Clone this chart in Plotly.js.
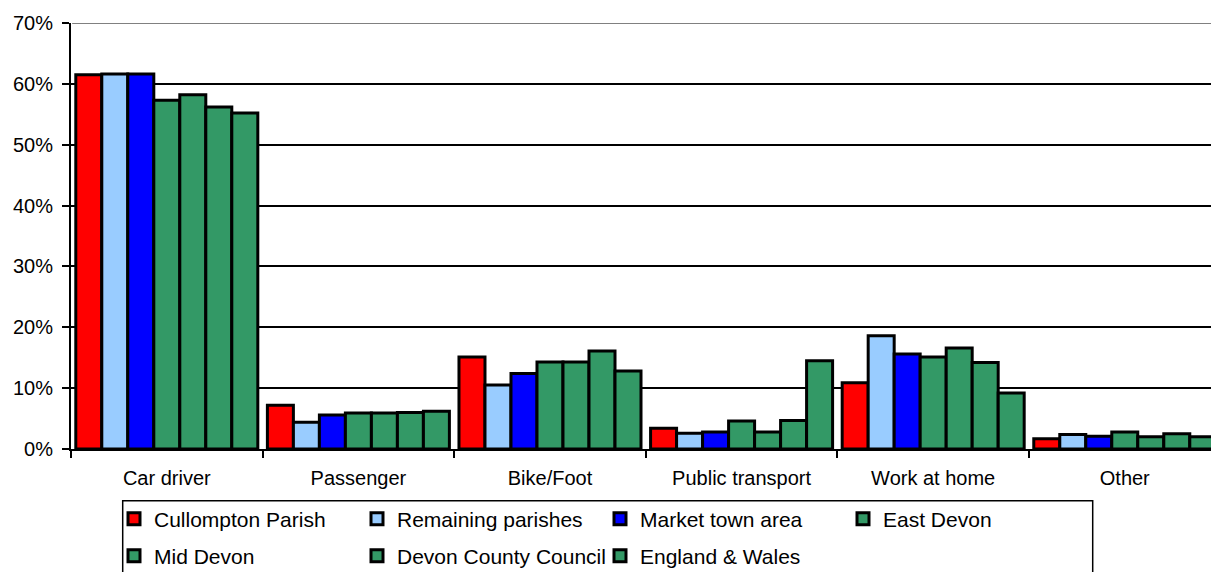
<!DOCTYPE html>
<html>
<head>
<meta charset="utf-8">
<script src="https://cdn.plot.ly/plotly-3.0.1.min.js"></script>
<style>html,body{margin:0;padding:0;background:#fff;}#chart{width:1211px;height:572px;}</style>
</head>
<body>
<div id="chart"></div>
<script>
const categories = ['Car driver', 'Passenger', 'Bike/Foot', 'Public transport', 'Work at home', 'Other'];
const seriesNames = ['Cullompton Parish', 'Remaining parishes', 'Market town area', 'East Devon', 'Mid Devon', 'Devon County Council', 'England & Wales'];
const cullompton = [61.5, 7.2, 15.1, 3.4, 10.9, 1.7];
const remaining  = [61.6, 4.4, 10.5, 2.6, 18.6, 2.4];
const market     = [61.6, 5.6, 12.4, 2.8, 15.6, 2.1];
const eastDevon  = [57.3, 5.9, 14.3, 4.6, 15.1, 2.8];
const midDevon   = [58.2, 5.9, 14.3, 2.8, 16.6, 2.0];
const devonCC    = [56.2, 6.0, 16.1, 4.7, 14.2, 2.5];
const englandWales = [55.2, 6.2, 12.8, 14.5, 9.2, 2.0];
const yTickVals = [0, 10, 20, 30, 40, 50, 60, 70];

const seriesValues = [cullompton, remaining, market, eastDevon, midDevon, devonCC, englandWales];
const colors = ['#FF0000', '#99CCFF', '#0000FF', '#339966', '#339966', '#339966', '#339966'];
const FONT = 'Liberation Sans, Arial, sans-serif';

const traces = seriesValues.map((vals, i) => ({
  type: 'bar',
  name: seriesNames[i],
  x: categories,
  y: vals,
  marker: {color: colors[i], line: {color: '#000000', width: 3}},
  legend: i < 4 ? 'legend' : 'legend2',
  hoverinfo: 'skip'
}));

const L = 71, T = 23, W = 1211, H = 572, B = 123;
const plotW = W - L, plotH = H - T - B;
const px2x = p => (p - L) / plotW;
const px2y = p => (H - B - p) / plotH;

const legendCommon = {
  orientation: 'h',
  xanchor: 'left',
  yanchor: 'middle',
  bgcolor: 'rgba(0,0,0,0)',
  borderwidth: 0,
  entrywidth: 198,
  entrywidthmode: 'pixels',
  font: {family: FONT, size: 21, color: '#000'},
  traceorder: 'normal'
};

const layout = {
  width: W, height: H,
  margin: {l: L, r: 0, t: T, b: B, pad: 0, autoexpand: false},
  paper_bgcolor: '#ffffff',
  plot_bgcolor: '#ffffff',
  font: {family: FONT, size: 20, color: '#000'},
  barmode: 'group',
  bargap: 0.05,
  bargroupgap: 0,
  showlegend: true,
  legend: Object.assign({}, legendCommon, {x: px2x(114), y: px2y(519)}),
  legend2: Object.assign({}, legendCommon, {x: px2x(114), y: px2y(556)}),
  xaxis: {
    type: 'category',
    range: [-0.5, 5.45],
    showline: true, linecolor: '#000', linewidth: 2,
    ticks: 'outside', tickson: 'boundaries', ticklen: 7, tickwidth: 2, tickcolor: '#000',
    ticklabelstandoff: 10,
    showgrid: false,
    tickfont: {family: FONT, size: 20, color: '#000'},
    fixedrange: true
  },
  yaxis: {
    range: [0, 70],
    tickvals: yTickVals,
    ticktext: yTickVals.map(v => v + '%'),
    showline: true, linecolor: '#000', linewidth: 2,
    ticks: 'outside', ticklen: 7, tickwidth: 2, tickcolor: '#000',
    ticklabelstandoff: 5,
    showgrid: true, gridcolor: '#000', gridwidth: 2,
    zeroline: false,
    tickfont: {family: FONT, size: 20, color: '#000'},
    fixedrange: true
  },
  shapes: [
    {type: 'line', xref: 'paper', yref: 'y', x0: 0.001, x1: 1, y0: 70, y1: 70,
     line: {color: '#808080', width: 2}, layer: 'above'},
    {type: 'rect', xref: 'paper', yref: 'paper',
     x0: px2x(122.7), x1: px2x(1092.7), y0: px2y(500.7), y1: px2y(620),
     line: {color: '#000', width: 1.5}, fillcolor: 'rgba(0,0,0,0)', layer: 'above'}
  ]
};

Plotly.newPlot('chart', traces, layout, {displayModeBar: false, staticPlot: true});
</script>
</body>
</html>
